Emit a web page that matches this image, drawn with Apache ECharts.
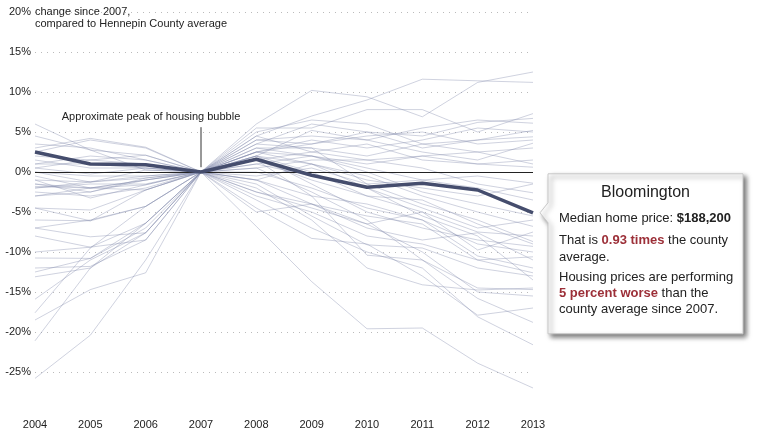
<!DOCTYPE html>
<html>
<head>
<meta charset="utf-8">
<script src="https://cdn.jsdelivr.net/npm/echarts@6/dist/echarts.min.js"></script>
<style>
html,body{margin:0;padding:0;background:#fff;}
#chart{width:762px;height:440px;}
</style>
</head>
<body>
<div id="chart"></div>
<script>
const years = ['2004','2005','2006','2007','2008','2009','2010','2011','2012','2013'];
const yTickValues = [-25,-20,-15,-10,-5,0,5,10,15,20];

// Percent change since 2007 relative to county average, one row per city
const otherCities = [
  [-1.5, -2.5, -1.0, 0, 4.5, 7.0, 9.0, 11.6, 11.4, 11.2],
  [1.0, 2.0, 1.5, 0, 6.0, 10.2, 9.4, 6.9, 11.2, 12.5],
  [3.0, 4.2, 3.1, 0, 5.5, 5.5, 7.8, 7.8, 5.0, 7.3],
  [0.5, 1.5, 2.1, 0, 3.5, 6.0, 5.0, 4.5, 6.2, 6.7],
  [-2.0, -1.25, -0.75, 0, 4.0, 4.5, 4.0, 5.5, 6.5, 6.1],
  [6.0, 2.75, 0.25, 0, 2.5, 3.5, 5.0, 3.0, 4.0, 5.2],
  [-0.5, -2.0, -1.6, 0, 3.0, 3.0, 2.0, 3.5, 4.0, 4.4],
  [-4.5, -4.75, -2.25, 0, 2.0, 5.2, 4.0, 2.5, 1.5, 3.6],
  [2.0, 1.5, 1.0, 0, 1.5, 2.5, 3.5, 1.5, 1.0, 1.5],
  [-1.0, -3.25, -1.6, 0, 1.0, 2.0, 1.0, 2.0, 1.0, 0.6],
  [4.5, 2.75, 2.1, 0, 2.5, 2.0, 0.5, -1.0, -0.5, -1.4],
  [-3.0, -2.5, -0.75, 0, 0.5, 1.5, 1.5, 0.5, -1.5, -2.6],
  [-6.0, -6.1, -4.3, 0, -1.0, 1.0, -0.5, -3.0, -5.0, -6.8],
  [-1.8, -2.0, -1.0, 0, 3.5, 3.0, -1.5, -4.0, -6.0, -8.7],
  [0.0, -1.25, 0.25, 0, 2.0, -1.5, -5.0, -7.0, -8.5, -9.3],
  [-10.0, -9.4, -6.4, 0, -2.5, -4.0, -5.5, -6.5, -11.0, -10.6],
  [-7.0, -8.1, -7.6, 0, -3.0, -5.0, -8.0, -9.0, -11.0, -12.6],
  [-12.0, -11.8, -8.5, 0, -1.5, -5.5, -9.1, -9.5, -12.0, -13.0],
  [-10.75, -10.8, -6.4, 0, 1.5, -3.0, -10.4, -11.0, -14.5, -14.7],
  [-13.1, -12.0, -7.6, 0, -2.0, -6.0, -12.0, -14.1, -14.75, -14.5],
  [-8.0, -9.4, -8.5, 0, -4.5, -8.3, -9.0, -13.0, -17.9, -17.0],
  [-15.9, -11.0, -7.6, 0, 0.5, -2.5, -6.0, -11.0, -15.8, -18.8],
  [-17.6, -9.5, -4.3, 0, -6.8, -13.7, -19.6, -19.5, -23.9, -27.0],
  [-18.5, -14.7, -12.6, 0, -3.5, -7.0, -10.0, -12.0, -18.1, -21.6],
  [-21.1, -12.0, -6.4, 0, -1.0, -4.0, -7.0, -8.5, -7.6, -11.0],
  [-25.8, -20.4, -11.0, 0, 2.0, 0.0, -3.0, -5.0, -9.75, -7.5],
  [1.5, 0.5, 0.5, 0, 2.5, 4.0, 3.0, 4.0, 5.5, 5.0],
  [-1.0, -1.25, -0.5, 0, 1.0, -0.5, -2.0, -4.5, -7.0, -6.0],
  [3.5, 3.0, 1.5, 0, 4.0, 3.5, 4.5, 5.0, 3.5, 4.0],
  [-2.5, -3.0, -2.0, 0, -1.0, -3.0, -4.0, -6.0, -9.0, -10.0],
  [0.5, -0.25, 0.5, 0, 2.0, 1.0, -1.0, -2.0, -3.0, -1.5],
  [-3.0, -2.0, -1.0, 0, 3.0, 2.0, 0.0, -2.5, -4.0, -5.5],
  [-12.5, -10.8, -7.0, 0, -5.0, -4.0, -6.5, -10.0, -15.0, -15.5],
  [-7.0, -6.0, -4.3, 0, 0.0, -2.0, -4.5, -6.0, -10.5, -12.0],
  [1.0, 1.0, 0.5, 0, 5.0, 6.5, 6.0, 3.5, 2.5, 3.0],
  [-1.5, -2.0, -2.25, 0, -0.5, 0.5, -1.5, -1.0, -2.0, -3.5],
  [2.5, 4.0, 3.0, 0, 1.5, -1.0, -3.0, -3.5, -6.5, -9.0],
  [-4.5, -6.1, -2.25, 0, 2.5, 1.0, -2.0, -5.5, -8.0, -13.5],
  [0.0, -0.5, -0.5, 0, 4.5, 2.5, 1.5, 2.0, 2.5, 1.0],
  [-2.0, -1.5, -1.5, 0, -2.5, -4.5, -6.5, -5.0, -7.5, -8.0]
];
const bloomington = [2.5, 1.0, 0.9, 0, 1.6, -0.4, -1.9, -1.4, -2.25, -5.1];

const cityName = 'Bloomington';
const medianPrice = '$188,200';
const timesAvg = '0.93 times';
const performance = '5 percent worse';
const peakYear = '2007';

const FONT = '"Liberation Sans", Arial, Helvetica, sans-serif';

const chart = echarts.init(document.getElementById('chart'), null, {renderer: 'canvas'});

const series = otherCities.map((d, i) => ({
  type: 'line',
  name: 'city' + i,
  data: d,
  symbol: 'none',
  silent: true,
  z: 2,
  lineStyle: {color: 'rgba(130,136,170,0.38)', width: 1}
}));
series.push({
  type: 'line',
  name: cityName,
  data: bloomington,
  symbol: 'none',
  z: 5,
  lineStyle: {color: '#454d6d', width: 3.5},
  markLine: {
    silent: true,
    symbol: 'none',
    z: 4,
    label: {show: false},
    lineStyle: {color: '#222', width: 1, type: 'solid'},
    data: [{yAxis: 0}]
  }
});

chart.setOption({
  animation: false,
  textStyle: {fontFamily: FONT},
  grid: {left: 35, right: 229, top: 12, bottom: 28, containLabel: false},
  xAxis: {
    type: 'category',
    data: years,
    boundaryGap: false,
    axisLine: {show: false},
    axisTick: {show: false},
    splitLine: {show: false},
    axisLabel: {color: '#222', fontSize: 11, margin: 7, fontFamily: FONT}
  },
  yAxis: {
    type: 'value',
    min: -30,
    max: 20,
    interval: 5,
    axisLine: {show: false},
    axisTick: {show: false},
    axisLabel: {
      color: '#222', fontSize: 11, margin: 4, fontFamily: FONT,
      formatter: v => yTickValues.indexOf(v) >= 0 ? v + '%' : ''
    },
    splitLine: {
      show: true,
      showMinLine: false,
      lineStyle: {color: '#bbb', type: [1, 5], width: 1}
    }
  },
  series: series
});

// Annotations placed from the axes' own scales
const tip = chart.convertToPixel({gridIndex: 0}, [years[years.length - 1], bloomington[bloomington.length - 1]]);
const peakTop = chart.convertToPixel({gridIndex: 0}, [peakYear, 5.6]);
const peakBottom = chart.convertToPixel({gridIndex: 0}, [peakYear, 0.6]);
const topTick = chart.convertToPixel({gridIndex: 0}, [years[0], 20]);

const ax = tip[0] + 7, ay = tip[1];
const bx = ax + 8, by = ay - 39, bw = 195, bh = 160;
const red = '#9c2f38';

function line(y, parts) {
  return {
    type: 'text', z: 101, x: bx + 11, y: by + y,
    style: {
      text: parts,
      verticalAlign: 'middle',
      rich: {
        n: {fill: '#222', font: '13px ' + FONT},
        b: {fill: '#222', font: 'bold 13px ' + FONT},
        r: {fill: red, font: 'bold 13px ' + FONT}
      }
    }
  };
}

chart.setOption({
  graphic: [
    {
      type: 'text', left: topTick[0], top: topTick[1] - 6,
      style: {text: 'change since 2007,\ncompared to Hennepin County average', fill: '#222', font: '11px ' + FONT, lineHeight: 12}
    },
    {
      type: 'text', x: peakTop[0] - 50, y: peakTop[1] - 10,
      style: {text: 'Approximate peak of housing bubble', fill: '#222', font: '11px ' + FONT, align: 'center', verticalAlign: 'middle'}
    },
    {
      type: 'line',
      shape: {x1: peakTop[0], y1: peakTop[1], x2: peakBottom[0], y2: peakBottom[1]},
      style: {stroke: '#333', lineWidth: 1}
    },
    {
      type: 'polygon',
      z: 100,
      shape: {points: [[bx, by], [bx + bw, by], [bx + bw, by + bh], [bx, by + bh], [bx, ay + 10], [ax, ay], [bx, ay - 10]]},
      style: {fill: '#fff', stroke: '#c8c8c8', lineWidth: 1, shadowBlur: 5, shadowOffsetX: 3, shadowOffsetY: 3, shadowColor: 'rgba(0,0,0,0.55)'}
    },
    {
      type: 'text', z: 101, x: bx + bw / 2, y: by + 19,
      style: {text: cityName, fill: '#222', font: '16px ' + FONT, align: 'center', verticalAlign: 'middle'}
    },
    line(45, '{n|Median home price: }{b|' + medianPrice + '}'),
    line(67, '{n|That is }{r|' + timesAvg + '}{n| the county}'),
    line(84, '{n|average.}'),
    line(104, '{n|Housing prices are performing}'),
    line(120, '{r|' + performance + '}{n| than the}'),
    line(136, '{n|county average since 2007.}')
  ]
});
</script>
</body>
</html>
